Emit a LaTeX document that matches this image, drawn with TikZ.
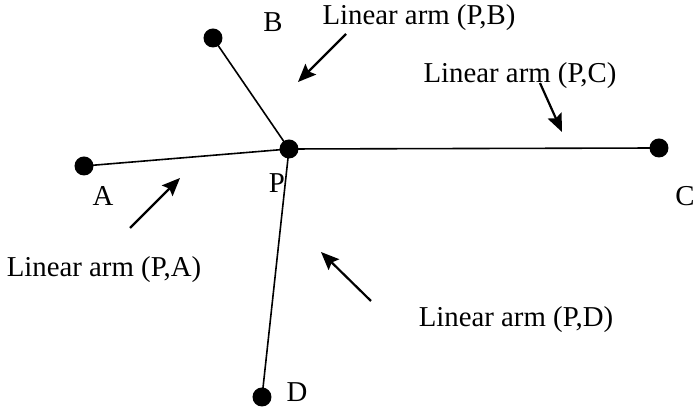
\documentclass[tikz,border=0pt]{standalone}
\usepackage{fontspec}
\setmainfont{Liberation Serif}
\usetikzlibrary{arrows.meta}

\begin{document}
\begin{tikzpicture}[x=0.5pt, y=-0.5pt,
  joint/.style={circle, fill=black, inner sep=0pt, minimum size=9.5pt},
  arm/.style={line width=0.8pt},
  arr/.style={-{Stealth[length=9pt, width=7.5pt, inset=1.5pt]}, line width=1.1pt},
  lab/.style={font=\fontsize{14.4}{16}\selectfont, inner sep=0pt}]
\useasboundingbox (0,0) rectangle (693,410);
% joints
\node[joint] (P) at (289,149) {};
\node[joint] (A) at (84,166) {};
\node[joint] (B) at (213,38) {};
\node[joint] (C) at (659,148) {};
\node[joint] (D) at (262,397) {};
\draw[arm] (P.center) -- (A.center);
\draw[arm] (P.center) -- (B.center);
\draw[arm] (P.center) -- (C.center);
\draw[arm] (P.center) -- (D.center);
% letters
\node[lab] (labP) at (277,183) {P};
\node[lab] (labA) at (103,196) {A};
\node[lab] (labB) at (273,22) {B};
\node[lab] (labC) at (685,196) {C};
\node[lab] (labD) at (297,392) {D};
% arm labels
\node[lab] (armB) at (419,18) {Linear arm (P,B)};
\node[lab] (armC) at (520,76) {Linear arm (P,C)};
\node[lab] (armA) at (104,270) {Linear arm (P,A)};
\node[lab] (armD) at (516,320) {Linear arm (P,D)};
% pointers
\coordinate (pB1) at (346,34);  \coordinate (pB2) at (298,82);
\coordinate (pC1) at (540,83);  \coordinate (pC2) at (562,132);
\coordinate (pA1) at (130,228); \coordinate (pA2) at (180,178);
\coordinate (pD1) at (371,301); \coordinate (pD2) at (321,252);
\draw[arr] (pB1) -- (pB2);
\draw[arr] (pC1) -- (pC2);
\draw[arr] (pA1) -- (pA2);
\draw[arr] (pD1) -- (pD2);
\end{tikzpicture}
\end{document}
